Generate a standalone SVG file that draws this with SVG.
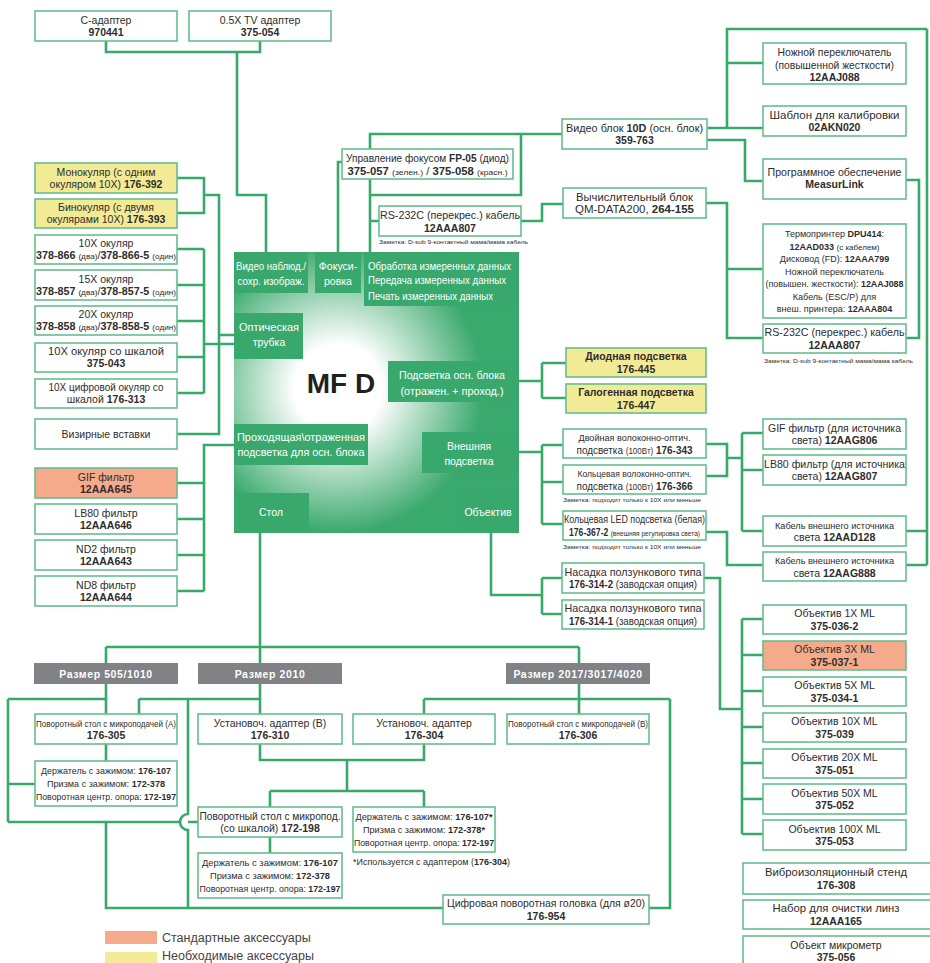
<svg xmlns="http://www.w3.org/2000/svg" width="930" height="963" viewBox="0 0 930 963">
<defs>
<radialGradient id="glow" gradientUnits="userSpaceOnUse" cx="338" cy="388" r="145">
<stop offset="0" stop-color="#ffffff"/>
<stop offset="0.3" stop-color="#ffffff"/>
<stop offset="1" stop-color="#3aa96d"/>
</radialGradient>
<style>
.bx{fill:#fff;stroke:#66bf8f;stroke-width:1.6}
.yl{fill:#f2ea95}
.sa{fill:#f6aa8c}
.ln{fill:none;stroke:#36a96b;stroke-width:2.6}
.gb{fill:#38a86c}
.hd{fill:#808285}
text{font-family:"Liberation Sans",Arial,sans-serif}
.t{font-size:10.5px;fill:#2d2d2d;text-anchor:middle}
.s9{font-size:9.5px}
.s8{font-size:8.5px}
.hl{font-size:9px}
.tw{font-size:10.5px;fill:#fff;text-anchor:middle}
.tl{font-size:10.5px;fill:#fff}
.th{font-size:10.5px;fill:#fff;font-weight:bold;text-anchor:middle;letter-spacing:0.6px}
.b{font-weight:bold}
.sm{font-size:8px;font-weight:normal}
.nt{font-size:6px;fill:#2d2d2d}
.lg{font-size:12.5px;fill:#444}
</style>
</defs>
<rect width="930" height="963" fill="#fff"/>

<g id="connectors" class="ln">
<path d="M106,41 V52 H260 V41 M237,52 V195 H266 V252"/>
<path d="M177,178 H204 V213 H177 M204,195 H219 V434 H177 M219,335 H234"/>
<path d="M177,249 H204 M177,285 H204 M177,321 H204 M177,357 H204 M177,393 H204 M204,249 V393 M204,344 H234"/>
<path d="M234,445 H204 V591 M177,483 H204 M177,519 H204 M177,555 H204 M177,591 H204"/>
<path d="M260,533 V647 M106,647 H579 M106,647 V714 M260,647 V714 M579,647 V714"/>
<path d="M8,699 H106 M8,699 V822 M8,784 H35 M106,744 V761"/>
<path d="M139,699 H260 M139,699 V714 M188,699 V814 A8,8 0 0 0 188,830 V908"/>
<path d="M8,822 H180 M188,822 H198 M106,822 V908 H443"/>
<path d="M260,744 V760 H424 V744 M347,760 V791 M270,791 H424 M270,791 V807 M424,791 V807 M270,837 V853"/>
<path d="M424,699 H670 M424,699 V714 M670,699 V908 H649"/>
<path d="M338,252 V162 H342 M370,252 V134 H562 M521,134 V195 H370 M370,221 H379 M521,221 H542 V204 H563"/>
<path d="M706,128 H727 V29 H927 M727,63 H763 M727,128 H763 M706,140 H745 V181 H763"/>
<path d="M906,180 H919 V338 H906"/>
<path d="M706,203 H727 V338 H763 M727,269 H763"/>
<path d="M927,29 V565 M906,531 H927 M906,565 H927"/>
<path d="M519,381 H542 M542,363 V398 M542,363 H566 M542,398 H566"/>
<path d="M519,452 H542 M542,445 V524 M542,445 H563 M542,482 H563 M542,524 H563"/>
<path d="M706,444 H727 V476 H706 M727,458 H742 M742,433 V531 M742,433 H763 M742,470 H763 M742,531 H763"/>
<path d="M706,532 H727 V565 H763"/>
<path d="M491,533 V595 H542 M542,578 V614 M542,578 H562 M542,614 H562"/>
<path d="M704,578 H720 V709 H742 M742,619 V834 M742,619 H763 M742,655 H763 M742,691 H763 M742,727 H763 M742,763 H763 M742,799 H763 M742,834 H763"/>
</g>

<g id="mfd">
<rect x="234" y="252" width="285" height="281" fill="url(#glow)"/>
<rect class="gb" x="234" y="252" width="74" height="41"/>
<rect class="gb" x="315" y="252" width="46" height="41"/>
<rect class="gb" x="364" y="252" width="155" height="54"/>
<rect class="gb" x="234" y="313" width="69" height="46"/>
<rect class="gb" x="388" y="361" width="131" height="41"/>
<rect class="gb" x="234" y="424" width="134" height="41"/>
<rect class="gb" x="422" y="432" width="97" height="41"/>
<rect class="gb" x="459" y="491" width="60" height="42"/>
<rect class="gb" x="234" y="493" width="75" height="40"/>
<text class="tw" x="271" y="270" textLength="70" lengthAdjust="spacingAndGlyphs">Видео наблюд./</text>
<text class="tw" x="271" y="285" textLength="67" lengthAdjust="spacingAndGlyphs">сохр. изображ.</text>
<text class="tw" x="338" y="270">Фокуси-</text>
<text class="tw" x="338" y="285">ровка</text>
<text class="tl" x="368" y="270" textLength="143" lengthAdjust="spacingAndGlyphs">Обработка измеренных данных</text>
<text class="tl" x="368" y="284" textLength="138" lengthAdjust="spacingAndGlyphs">Передача измеренных данных</text>
<text class="tl" x="368" y="300" textLength="125" lengthAdjust="spacingAndGlyphs">Печать измеренных данных</text>
<text class="tw" x="269" y="331" textLength="60" lengthAdjust="spacingAndGlyphs">Оптическая</text>
<text class="tw" x="269" y="346">трубка</text>
<text x="341" y="393" font-size="28" font-weight="bold" fill="#231f20" text-anchor="middle">MF D</text>
<text class="tw" x="452" y="379" textLength="106" lengthAdjust="spacingAndGlyphs">Подсветка осн. блока</text>
<text class="tw" x="452" y="395" textLength="103" lengthAdjust="spacingAndGlyphs">(отражен. + проход.)</text>
<text class="tw" x="301" y="441" textLength="128" lengthAdjust="spacingAndGlyphs">Проходящая\отраженная</text>
<text class="tw" x="301" y="456" textLength="127" lengthAdjust="spacingAndGlyphs">подсветка для осн. блока</text>
<text class="tw" x="469" y="450">Внешняя</text>
<text class="tw" x="469" y="465">подсветка</text>
<text class="tw" x="488" y="516">Объектив</text>
<text class="tw" x="271" y="516">Стол</text>
</g>

<g id="c-adapter"><rect class="bx" x="35" y="11" width="142" height="30"/><text class="t" x="106" y="24">C-адаптер</text><text class="t b" x="106" y="36">970441</text></g>
<g id="tv-adapter"><rect class="bx" x="189" y="11" width="142" height="30"/><text class="t" x="260" y="24">0.5X TV адаптер</text><text class="t b" x="260" y="36">375-054</text></g>

<g id="monocular"><rect class="bx yl" x="35" y="163" width="142" height="30"/><text class="t" x="106" y="176">Монокуляр (с одним</text><text class="t" x="106" y="188">окуляром 10X) <tspan class="b">176-392</tspan></text></g>
<g id="binocular"><rect class="bx yl" x="35" y="199" width="142" height="29"/><text class="t" x="106" y="211">Бинокуляр (с двумя</text><text class="t" x="106" y="223">окулярами 10X) <tspan class="b">176-393</tspan></text></g>
<g id="eye10"><rect class="bx" x="35" y="235" width="142" height="29"/><text class="t" x="106" y="247">10X окуляр</text><text class="t" x="106" y="259" textLength="140" lengthAdjust="spacingAndGlyphs"><tspan class="b">378-866</tspan> <tspan class="sm">(два)</tspan>/<tspan class="b">378-866-5</tspan> <tspan class="sm">(один)</tspan></text></g>
<g id="eye15"><rect class="bx" x="35" y="270" width="142" height="30"/><text class="t" x="106" y="283">15X окуляр</text><text class="t" x="106" y="295" textLength="140" lengthAdjust="spacingAndGlyphs"><tspan class="b">378-857</tspan> <tspan class="sm">(два)</tspan>/<tspan class="b">378-857-5</tspan> <tspan class="sm">(один)</tspan></text></g>
<g id="eye20"><rect class="bx" x="35" y="306" width="142" height="29"/><text class="t" x="106" y="318">20X окуляр</text><text class="t" x="106" y="330" textLength="140" lengthAdjust="spacingAndGlyphs"><tspan class="b">378-858</tspan> <tspan class="sm">(два)</tspan>/<tspan class="b">378-858-5</tspan> <tspan class="sm">(один)</tspan></text></g>
<g id="eye10scale"><rect class="bx" x="35" y="343" width="142" height="29"/><text class="t" x="106" y="355" textLength="116" lengthAdjust="spacingAndGlyphs">10X окуляр со шкалой</text><text class="t b" x="106" y="367">375-043</text></g>
<g id="eye10digital"><rect class="bx" x="35" y="379" width="142" height="29"/><text class="t" x="106" y="391" textLength="115" lengthAdjust="spacingAndGlyphs">10X цифровой окуляр со</text><text class="t" x="106" y="403">шкалой <tspan class="b">176-313</tspan></text></g>
<g id="reticles"><rect class="bx" x="35" y="419" width="142" height="30"/><text class="t" x="106" y="438">Визирные вставки</text></g>
<g id="gif"><rect class="bx sa" x="35" y="468" width="142" height="30"/><text class="t" x="106" y="481">GIF фильтр</text><text class="t b" x="106" y="493">12AAA645</text></g>
<g id="lb80"><rect class="bx" x="35" y="504" width="142" height="30"/><text class="t" x="106" y="517">LB80 фильтр</text><text class="t b" x="106" y="529">12AAA646</text></g>
<g id="nd2"><rect class="bx" x="35" y="540" width="142" height="30"/><text class="t" x="106" y="553">ND2 фильтр</text><text class="t b" x="106" y="565">12AAA643</text></g>
<g id="nd8"><rect class="bx" x="35" y="576" width="142" height="30"/><text class="t" x="106" y="589">ND8 фильтр</text><text class="t b" x="106" y="601">12AAA644</text></g>

<g id="focus-ctrl"><rect class="bx" x="342" y="149" width="171" height="30"/><text class="t" x="427.5" y="162" textLength="163" lengthAdjust="spacingAndGlyphs">Управление фокусом <tspan class="b">FP-05</tspan> (диод)</text><text class="t" x="427.5" y="175" textLength="160" lengthAdjust="spacingAndGlyphs"><tspan class="b">375-057</tspan> <tspan class="sm">(зелен.)</tspan> / <tspan class="b">375-058</tspan> <tspan class="sm">(красн.)</tspan></text></g>
<g id="rs232-left"><rect class="bx" x="379" y="206" width="142" height="30"/><text class="t" x="450" y="219" textLength="140" lengthAdjust="spacingAndGlyphs">RS-232C (перекрес.) кабель</text><text class="t b" x="450" y="232">12AAA807</text><text class="nt" x="379" y="244" textLength="149" lengthAdjust="spacingAndGlyphs">Заметка: D-sub 9-контактный мама/мама кабель</text></g>
<g id="video-unit"><rect class="bx" x="562" y="119" width="145" height="30"/><text class="t" x="634.5" y="132" textLength="137" lengthAdjust="spacingAndGlyphs">Видео блок <tspan class="b">10D</tspan> (осн. блок)</text><text class="t b" x="634.5" y="144">359-763</text></g>
<g id="data-unit"><rect class="bx" x="563" y="188" width="143" height="30"/><text class="t" x="634.5" y="201" textLength="117" lengthAdjust="spacingAndGlyphs">Вычислительный блок</text><text class="t" x="634.5" y="213" textLength="119" lengthAdjust="spacingAndGlyphs">QM-DATA200, <tspan class="b">264-155</tspan></text></g>

<g id="footswitch"><rect class="bx" x="763" y="43" width="143" height="41"/><text class="t" x="834.5" y="56" textLength="114" lengthAdjust="spacingAndGlyphs">Ножной переключатель</text><text class="t" x="834.5" y="69" textLength="119" lengthAdjust="spacingAndGlyphs">(повышенной жесткости)</text><text class="t b" x="834.5" y="81">12AAJ088</text></g>
<g id="calib"><rect class="bx" x="763" y="106" width="143" height="30"/><text class="t" x="834.5" y="119" textLength="130" lengthAdjust="spacingAndGlyphs">Шаблон для калибровки</text><text class="t b" x="834.5" y="131">02AKN020</text></g>
<g id="measurlink"><rect class="bx" x="763" y="159" width="143" height="40"/><text class="t" x="834.5" y="176" textLength="134" lengthAdjust="spacingAndGlyphs">Программное обеспечение</text><text class="t b" x="834.5" y="188">MeasurLink</text></g>
<g id="printer"><rect class="bx" x="763" y="224" width="143" height="94"/>
<text class="t hl" x="834.5" y="237">Термопринтер <tspan class="b">DPU414</tspan>:</text>
<text class="t hl" x="834.5" y="250"><tspan class="b">12AAD033</tspan> <tspan class="sm">(с кабелем)</tspan></text>
<text class="t hl" x="834.5" y="262">Дисковод (FD): <tspan class="b">12AAA799</tspan></text>
<text class="t hl" x="834.5" y="275">Ножной переключатель</text>
<text class="t hl" x="834.5" y="287" textLength="138" lengthAdjust="spacingAndGlyphs">(повышен. жесткости): <tspan class="b">12AAJ088</tspan></text>
<text class="t hl" x="834.5" y="300">Кабель (ESC/P) для</text>
<text class="t hl" x="834.5" y="312">внеш. принтера: <tspan class="b">12AAA804</tspan></text></g>
<g id="rs232-right"><rect class="bx" x="763" y="324" width="143" height="29"/><text class="t" x="834.5" y="336" textLength="140" lengthAdjust="spacingAndGlyphs">RS-232C (перекрес.) кабель</text><text class="t b" x="834.5" y="349">12AAA807</text><text class="nt" x="764" y="363" textLength="149" lengthAdjust="spacingAndGlyphs">Заметка: D-sub 9-контактный мама/мама кабель</text></g>

<g id="diode-light"><rect class="bx yl" x="566" y="348" width="140" height="29"/><text class="t b" x="636" y="360">Диодная подсветка</text><text class="t b" x="636" y="373">176-445</text></g>
<g id="halogen-light"><rect class="bx yl" x="566" y="384" width="140" height="29"/><text class="t b" x="636" y="396">Галогенная подсветка</text><text class="t b" x="636" y="409">176-447</text></g>

<g id="dual-fiber"><rect class="bx" x="563" y="429" width="143" height="29"/><text class="t s9" x="634.5" y="441" textLength="112" lengthAdjust="spacingAndGlyphs">Двойная волоконно-оптич.</text><text class="t" x="634.5" y="454" textLength="116" lengthAdjust="spacingAndGlyphs">подсветка <tspan class="s8">(100Вт)</tspan> <tspan class="b">176-343</tspan></text></g>
<g id="ring-fiber"><rect class="bx" x="563" y="465" width="143" height="29"/><text class="t s9" x="634.5" y="477" textLength="114" lengthAdjust="spacingAndGlyphs">Кольцевая волоконно-оптич.</text><text class="t" x="634.5" y="490" textLength="116" lengthAdjust="spacingAndGlyphs">подсветка <tspan class="s8">(100Вт)</tspan> <tspan class="b">176-366</tspan></text><text class="nt" x="563" y="502" textLength="138" lengthAdjust="spacingAndGlyphs">Заметка: подходит только к 10X или меньше</text></g>
<g id="ring-led"><rect class="bx" x="563" y="511" width="143" height="29"/><text class="t" x="634.5" y="523" textLength="141" lengthAdjust="spacingAndGlyphs">Кольцевая LED подсветка (белая)</text><text class="t" x="634.5" y="536" textLength="131" lengthAdjust="spacingAndGlyphs"><tspan class="b">176-367-2</tspan> <tspan class="sm">(внешняя регулировка света)</tspan></text><text class="nt" x="563" y="549" textLength="138" lengthAdjust="spacingAndGlyphs">Заметка: подходит только к 10X или меньше</text></g>

<g id="gif-src"><rect class="bx" x="763" y="419" width="143" height="30"/><text class="t" x="834.5" y="432" textLength="133" lengthAdjust="spacingAndGlyphs">GIF фильтр (для источника</text><text class="t" x="834.5" y="444">света) <tspan class="b">12AAG806</tspan></text></g>
<g id="lb80-src"><rect class="bx" x="763" y="455" width="143" height="30"/><text class="t" x="834.5" y="468" textLength="141" lengthAdjust="spacingAndGlyphs">LB80 фильтр (для источника</text><text class="t" x="834.5" y="480">света) <tspan class="b">12AAG807</tspan></text></g>
<g id="cable-128"><rect class="bx" x="763" y="516" width="143" height="30"/><text class="t s9" x="834.5" y="529" textLength="119" lengthAdjust="spacingAndGlyphs">Кабель внешнего источника</text><text class="t" x="834.5" y="541">света <tspan class="b">12AAD128</tspan></text></g>
<g id="cable-888"><rect class="bx" x="763" y="552" width="143" height="29"/><text class="t s9" x="834.5" y="564" textLength="119" lengthAdjust="spacingAndGlyphs">Кабель внешнего источника</text><text class="t" x="834.5" y="577">света <tspan class="b">12AAG888</tspan></text></g>

<g id="slider-2"><rect class="bx" x="562" y="563" width="142" height="30"/><text class="t" x="633" y="576" textLength="137" lengthAdjust="spacingAndGlyphs">Насадка ползункового типа</text><text class="t" x="633" y="588" textLength="128" lengthAdjust="spacingAndGlyphs"><tspan class="b">176-314-2</tspan> (заводская опция)</text></g>
<g id="slider-1"><rect class="bx" x="562" y="600" width="142" height="29"/><text class="t" x="633" y="612" textLength="137" lengthAdjust="spacingAndGlyphs">Насадка ползункового типа</text><text class="t" x="633" y="625" textLength="128" lengthAdjust="spacingAndGlyphs"><tspan class="b">176-314-1</tspan> (заводская опция)</text></g>

<g id="obj1"><rect class="bx" x="763" y="605" width="143" height="29"/><text class="t" x="834.5" y="617">Объектив 1X ML</text><text class="t b" x="834.5" y="630">375-036-2</text></g>
<g id="obj3"><rect class="bx sa" x="763" y="641" width="143" height="29"/><text class="t" x="834.5" y="653">Объектив 3X ML</text><text class="t b" x="834.5" y="666">375-037-1</text></g>
<g id="obj5"><rect class="bx" x="763" y="677" width="143" height="29"/><text class="t" x="834.5" y="689">Объектив 5X ML</text><text class="t b" x="834.5" y="702">375-034-1</text></g>
<g id="obj10"><rect class="bx" x="763" y="713" width="143" height="29"/><text class="t" x="834.5" y="725">Объектив 10X ML</text><text class="t b" x="834.5" y="738">375-039</text></g>
<g id="obj20"><rect class="bx" x="763" y="749" width="143" height="29"/><text class="t" x="834.5" y="761">Объектив 20X ML</text><text class="t b" x="834.5" y="774">375-051</text></g>
<g id="obj50"><rect class="bx" x="763" y="784" width="143" height="30"/><text class="t" x="834.5" y="797">Объектив 50X ML</text><text class="t b" x="834.5" y="809">375-052</text></g>
<g id="obj100"><rect class="bx" x="763" y="820" width="143" height="30"/><text class="t" x="834.5" y="833">Объектив 100X ML</text><text class="t b" x="834.5" y="845">375-053</text></g>

<g id="vib-stand"><rect class="bx" x="743" y="863" width="190" height="31"/><text class="t" x="836" y="876" textLength="142" lengthAdjust="spacingAndGlyphs">Виброизоляционный стенд</text><text class="t b" x="836" y="889">176-308</text></g>
<g id="lens-kit"><rect class="bx" x="743" y="900" width="190" height="29"/><text class="t" x="836" y="912" textLength="127" lengthAdjust="spacingAndGlyphs">Набор для очистки линз</text><text class="t b" x="836" y="925">12AAA165</text></g>
<g id="micrometer"><rect class="bx" x="743" y="936" width="190" height="30"/><text class="t" x="836" y="949">Объект микрометр</text><text class="t b" x="836" y="961">375-056</text></g>

<g id="size-505"><rect class="hd" x="34" y="663" width="144" height="21"/><text class="th" x="106" y="678">Размер  505/1010</text></g>
<g id="size-2010"><rect class="hd" x="198" y="663" width="144" height="21"/><text class="th" x="270" y="678">Размер  2010</text></g>
<g id="size-2017"><rect class="hd" x="506" y="663" width="144" height="21"/><text class="th" x="578" y="678">Размер  2017/3017/4020</text></g>

<g id="rot-a"><rect class="bx" x="35" y="714" width="142" height="30"/><text class="t s8" x="106" y="727" textLength="140" lengthAdjust="spacingAndGlyphs">Поворотный стол с микроподачей (А)</text><text class="t b" x="106" y="739">176-305</text></g>
<g id="holder-a"><rect class="bx" x="35" y="761" width="142" height="45"/><text class="t hl" x="106" y="774" textLength="130" lengthAdjust="spacingAndGlyphs">Держатель с зажимом: <tspan class="b">176-107</tspan></text><text class="t hl" x="106" y="787" textLength="118" lengthAdjust="spacingAndGlyphs">Призма с зажимом: <tspan class="b">172-378</tspan></text><text class="t hl" x="106" y="800" textLength="140" lengthAdjust="spacingAndGlyphs">Поворотная центр. опора: <tspan class="b">172-197</tspan></text></g>
<g id="adapter-b"><rect class="bx" x="198" y="714" width="144" height="30"/><text class="t" x="270" y="727">Установоч. адаптер (В)</text><text class="t b" x="270" y="739">176-310</text></g>
<g id="adapter-304"><rect class="bx" x="353" y="714" width="142" height="30"/><text class="t" x="424" y="727">Установоч. адаптер</text><text class="t b" x="424" y="739">176-304</text></g>
<g id="rot-b"><rect class="bx" x="507" y="714" width="142" height="30"/><text class="t s8" x="578" y="727" textLength="140" lengthAdjust="spacingAndGlyphs">Поворотный стол с микроподачей (В)</text><text class="t b" x="578" y="739">176-306</text></g>
<g id="rot-scale"><rect class="bx" x="198" y="807" width="144" height="30"/><text class="t" x="270" y="820" textLength="141" lengthAdjust="spacingAndGlyphs">Поворотный стол с микропод.</text><text class="t" x="270" y="832">(со шкалой) <tspan class="b">172-198</tspan></text></g>
<g id="holder-b"><rect class="bx" x="198" y="853" width="144" height="45"/><text class="t hl" x="270" y="866" textLength="136" lengthAdjust="spacingAndGlyphs">Держатель с зажимом: <tspan class="b">176-107</tspan></text><text class="t hl" x="270" y="879" textLength="120" lengthAdjust="spacingAndGlyphs">Призма с зажимом: <tspan class="b">172-378</tspan></text><text class="t hl" x="270" y="892" textLength="141" lengthAdjust="spacingAndGlyphs">Поворотная центр. опора: <tspan class="b">172-197</tspan></text></g>
<g id="holder-c"><rect class="bx" x="353" y="807" width="142" height="45"/><text class="t hl" x="424" y="820" textLength="137" lengthAdjust="spacingAndGlyphs">Держатель с зажимом: <tspan class="b">176-107*</tspan></text><text class="t hl" x="424" y="833" textLength="122" lengthAdjust="spacingAndGlyphs">Призма с зажимом: <tspan class="b">172-378*</tspan></text><text class="t hl" x="424" y="846" textLength="140" lengthAdjust="spacingAndGlyphs">Поворотная центр. опора: <tspan class="b">172-197</tspan></text></g>
<text id="footnote" class="t s8" x="353" y="865" style="text-anchor:start" textLength="157" lengthAdjust="spacingAndGlyphs">*Используется с адаптером (<tspan class="b">176-304</tspan>)</text>
<g id="digital-head"><rect class="bx" x="443" y="895" width="206" height="29"/><text class="t" x="546" y="907" textLength="198" lengthAdjust="spacingAndGlyphs">Цифровая поворотная головка (для ø20)</text><text class="t b" x="546" y="920">176-954</text></g>

<g id="legend">
<rect x="105" y="931" width="52" height="13" fill="#f6aa8c"/>
<text class="lg" x="162" y="942">Стандартные аксессуары</text>
<rect x="105" y="952" width="52" height="13" fill="#f2ea95"/>
<text class="lg" x="162" y="960">Необходимые аксессуары</text>
</g>
</svg>
